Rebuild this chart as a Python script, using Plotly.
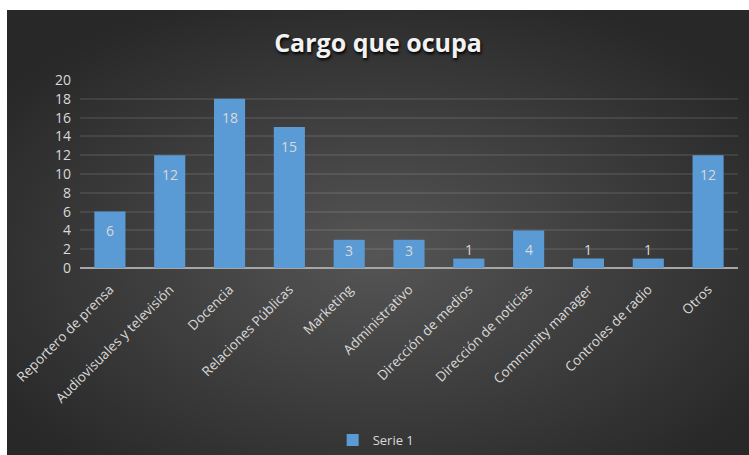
import base64
import plotly.graph_objects as go

# Datos del grafico
categorias = ['Reportero de prensa', 'Audiovisuales y televisión', 'Docencia',
              'Relaciones Públicas', 'Marketing', 'Administrativo',
              'Dirección de medios', 'Dirección de noticias', 'Community manager',
              'Controles de radio', 'Otros']
valores = [6, 12, 18, 15, 3, 3, 1, 4, 1, 1, 12]
serie = 'Serie 1'
ticks_y = [0, 2, 4, 6, 8, 10, 12, 14, 16, 18, 20]

color_bar = '#5b9bd5'
color_txt = '#d9d9d9'

# Fondo oscuro con degradado radial (estilo Excel)
svg = ('<svg xmlns="http://www.w3.org/2000/svg" width="742" height="445" viewBox="0 0 742 445" '
       'preserveAspectRatio="none"><defs><radialGradient id="g" cx="50%" cy="55%" r="62%">'
       '<stop offset="0" stop-color="#555555"/><stop offset="1" stop-color="#282828"/>'
       '</radialGradient></defs><rect width="742" height="445" fill="url(#g)"/></svg>')
bg_src = 'data:image/svg+xml;base64,' + base64.b64encode(svg.encode()).decode()

fig = go.Figure(go.Bar(
    x=categorias,
    y=valores,
    name=serie,
    marker=dict(color=color_bar, line=dict(width=0)),
    showlegend=True))

# Etiquetas de datos: dentro del extremo o encima si la barra es baja
anots = []
for c, v in zip(categorias, valores):
    if v >= 4:
        shift = -19
    elif v >= 3:
        shift = -11
    else:
        shift = 9
    anots.append(dict(x=c, y=v, xref='x', yref='y', text=str(v), showarrow=False,
                      yshift=shift, font=dict(color=color_txt, size=14, family='Open Sans')))

fig.update_layout(
    width=749, height=455,
    margin={'l': 80, 't': 80, 'b': 187, 'r': 11},
    paper_bgcolor='white',
    plot_bgcolor='rgba(0,0,0,0)',
    bargap=0.48,
    font=dict(family='Open Sans', color=color_txt, size=13),
    title=dict(text='Cargo que ocupa', x=378 / 749, xanchor='center', xref='container',
               y=0.905, yanchor='middle', yref='container',
               font=dict(size=25, color='#f2f2f2', family='Open Sans', weight='bold',
                         shadow='1px 2px 3px #000000')),
    xaxis=dict(showgrid=False, tickangle=-45, ticks='', showline=False,
               ticklabelstandoff=10, automargin=False,
               tickfont=dict(size=13.5, color=color_txt)),
    yaxis=dict(range=[0, 20], tickvals=ticks_y, showgrid=True,
               gridcolor='rgba(255,255,255,0.09)', gridwidth=2,
               zeroline=True, zerolinecolor='#a6a6a6', zerolinewidth=2,
               ticks='', ticklabelstandoff=8, automargin=False,
               tickfont=dict(size=14, color=color_txt)),
    legend=dict(orientation='h', x=0.384, xanchor='left',
                y=1 - 440 / 455, yanchor='middle', yref='container',
                itemwidth=30, font=dict(size=13, color=color_txt),
                bgcolor='rgba(0,0,0,0)'),
    annotations=anots,
    images=[dict(source=bg_src, xref='paper', yref='paper',
                 x=(7 - 80) / 658, y=(268 - 10) / 188,
                 sizex=(749 - 7) / 658, sizey=(455 - 10) / 188,
                 sizing='stretch', layer='below', xanchor='left', yanchor='top')],
)

# quitar el margen del body para que la figura quede en (0,0)
fig.write_html('out.html', config={'displayModeBar': False},
               post_script="document.body.style.margin='0';")
